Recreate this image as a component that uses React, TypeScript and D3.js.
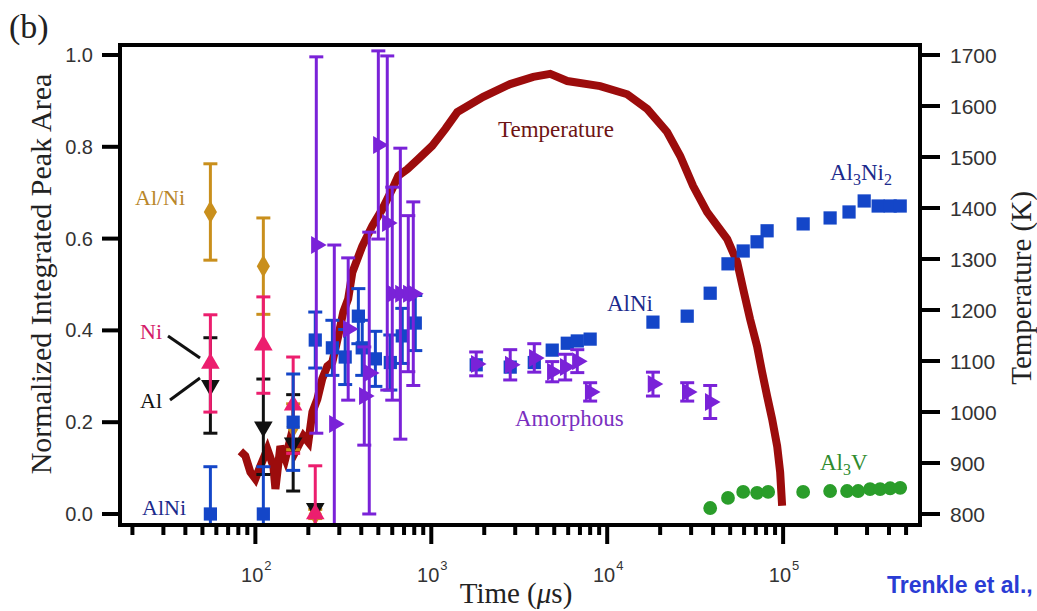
import React from 'react'
import * as d3 from 'd3'

// time in microseconds
const alNiTime = [55.5, 111, 164, 219]
const alNiVal = [0.658, 0.54, 0.19, 0.0]
const alNiErr = [0.105, 0.105, 0.05, 0.01]

const niTime = [55.5, 111, 164, 219]
const niVal = [0.328, 0.368, 0.237, 0.0]
const niErr = [0.106, 0.105, 0.105, 0.105]

const alTime = [55.5, 111, 164, 219]
const alVal = [0.28, 0.19, 0.155, 0.012]
const alErr = [0.104, 0.104, 0.105, 0.0]

const alNiPhaseTime = [55.5, 111, 164, 219, 274, 324, 385, 405, 481, 585, 684, 811,
  1800, 2810, 3850, 4870, 5930, 6760, 8000,
  18200, 28500, 38500, 48600, 59300, 71100, 81100,
  130000, 185000, 237000, 289000, 347000, 406000, 463000]
const alNiPhaseVal = [0, 0, 0.2, 0.379, 0.362, 0.342, 0.431, 0.362, 0.338, 0.33, 0.388, 0.416,
  0.325, 0.32, 0.33, 0.357, 0.372, 0.377, 0.381,
  0.418, 0.431, 0.481, 0.545, 0.573, 0.593, 0.617,
  0.632, 0.645, 0.658, 0.682, 0.671, 0.671, 0.671]
const alNiPhaseErr = [0.103, 0.103, 0.105, 0.061, 0.06, 0.06, 0.06, 0.06, 0.06, 0.06, 0.06, 0.06,
  0, 0, 0, 0, 0, 0, 0,
  0, 0, 0, 0, 0, 0, 0,
  0, 0, 0, 0, 0, 0, 0]

const amorTime = [222, 281, 337, 416, 444, 500, 562, 600, 667, 740, 790,
  1800, 2810, 3850, 4870, 5770, 6760, 8000, 18200, 28500, 38500]
const amorVal = [0.586, 0.196, 0.403, 0.257, 0.307, 0.804, 0.634, 0.48, 0.48, 0.48, 0.48,
  0.327, 0.325, 0.34, 0.31, 0.32, 0.333, 0.266, 0.283, 0.266, 0.244]
const amorErr = [0.41, 0.39, 0.155, 0.107, 0.307, 0.205, 0.364, 0.232, 0.317, 0.17, 0.2,
  0.026, 0.033, 0.031, 0.022, 0.028, 0.025, 0.02, 0.026, 0.02, 0.036]

const al3vTime = [38500, 48600, 59300, 71100, 82200, 130000, 185000, 231000, 267000, 312000, 356000, 406000, 463000]
const al3vVal = [0.013, 0.035, 0.048, 0.046, 0.048, 0.048, 0.05, 0.05, 0.05, 0.054, 0.054, 0.056, 0.057]

const tempTime = [82.2, 87.7, 93.7, 100, 106.8, 117, 126.5, 130, 138.7, 148, 158, 168.7, 187.5, 200,
  211, 225, 240, 256.5, 274, 296, 316, 337, 356, 405, 462, 527, 600, 649, 731, 844, 1013, 1202,
  1406, 1974, 2810, 3800, 4745, 5929, 9120, 13000, 16900, 21900, 26000, 30800, 37000, 48100,
  54800, 59300, 64900, 71100, 76000, 81100, 86600, 92500, 96200, 98700]
const tempK = [923, 914, 882, 869, 894, 927, 894, 849, 933, 908, 947, 922, 953, 941,
  1000, 1025, 1065, 1090, 1098, 1149, 1196, 1222, 1274, 1325, 1365, 1398, 1437, 1463, 1476, 1496, 1522, 1555,
  1588, 1618, 1643, 1657, 1663, 1649, 1639, 1623, 1594, 1549, 1502, 1443, 1392, 1339,
  1294, 1241, 1182, 1129, 1078, 1031, 986, 933, 882, 816]

const leftTicks = [0, 0.2, 0.4, 0.6, 0.8, 1.0]
const rightTicks = [800, 900, 1000, 1100, 1200, 1300, 1400, 1500, 1600, 1700]
const majorExp = [2, 3, 4, 5]

const L = 120, T = 45, R = 920, B = 525
const serif = '"Liberation Serif", "Times New Roman", serif'
const sans = '"Liberation Sans", Arial, sans-serif'

const x = d3.scaleLog().domain([17, 6e5]).range([L, R])
const yL = d3.scaleLinear().domain([-0.024, 1.0218]).range([B, T])
const yR = d3.scaleLinear().domain([778.4, 1719.6]).range([B, T])

const sym = (type, size) => d3.symbol().type(type).size(size)()

function Series({time, val, err, color, shape, rotate = 0, size = 160, capW = 7}) {
  return (
    <g>
      {time.map((t, i) => {
        const cx = x(t), cy = yL(val[i])
        const e = err ? err[i] : 0
        return (
          <g key={i}>
            {e > 0 && (
              <g stroke={color} strokeWidth={3}>
                <line x1={cx} x2={cx} y1={yL(val[i] + e)} y2={yL(Math.max(val[i] - e, -0.03))} />
                <line x1={cx - capW} x2={cx + capW} y1={yL(val[i] + e)} y2={yL(val[i] + e)} />
                {val[i] - e > -0.02 && (
                  <line x1={cx - capW} x2={cx + capW} y1={yL(val[i] - e)} y2={yL(val[i] - e)} />
                )}
              </g>
            )}
            <path d={sym(shape, size)} transform={`translate(${cx},${cy}) rotate(${rotate})`} fill={color} />
          </g>
        )
      })}
    </g>
  )
}

export default function App() {
  const tempLine = d3.line()
    .x((d, i) => x(tempTime[i]))
    .y((d, i) => yR(tempK[i]))
  const minor = []
  for (let dec = 10; dec <= 1e5; dec *= 10) {
    for (let m = 2; m <= 9; m++) {
      const t = dec * m
      if (t > 17 && t < 6e5) minor.push(t)
    }
  }

  return (
    <div style={{position: 'absolute', left: 0, top: 0}}>
      <svg width={1037} height={611} style={{display: 'block', background: '#fff'}}>
        <defs>
          <clipPath id="plot">
            <rect x={L} y={T} width={R - L} height={B - T} />
          </clipPath>
        </defs>

        <g clipPath="url(#plot)">
          <path d={tempLine(tempTime)} fill="none" stroke="#9c0c0c" strokeWidth={8} strokeLinejoin="miter" />
          <Series time={alNiTime} val={alNiVal} err={alNiErr} color="#c98f1c" shape={d3.symbolDiamond} size={150} />
          <Series time={alTime} val={alVal} err={alErr} color="#111" shape={d3.symbolTriangle} rotate={180} size={150} />
          <Series time={niTime} val={niVal} err={niErr} color="#ec1e6e" shape={d3.symbolTriangle} size={150} />
          <Series time={alNiPhaseTime} val={alNiPhaseVal} err={alNiPhaseErr} color="#1446c8" shape={d3.symbolSquare} size={175} />
          <Series time={amorTime} val={amorVal} err={amorErr} color="#7a22d8" shape={d3.symbolTriangle} rotate={90} size={140} />
          <Series time={al3vTime} val={al3vVal} color="#2a9d2a" shape={d3.symbolCircle} size={150} />
        </g>

        <rect x={L} y={T} width={R - L} height={B - T} fill="none" stroke="#000" strokeWidth={4} />

        {/* left axis */}
        {leftTicks.map(v => (
          <g key={v}>
            <line x1={L - 18} x2={L} y1={yL(v)} y2={yL(v)} stroke="#000" strokeWidth={4} />
            <text x={93} y={yL(v) + 7} textAnchor="end" fontFamily={sans} fontSize={20} fill="#333">{v.toFixed(1)}</text>
          </g>
        ))}

        {/* right axis */}
        {rightTicks.map(v => (
          <g key={v}>
            <line x1={R} x2={R + 20} y1={yR(v)} y2={yR(v)} stroke="#000" strokeWidth={4} />
            <text x={950} y={yR(v) + 8} fontFamily={sans} fontSize={21} fill="#333">{v}</text>
          </g>
        ))}

        {/* x axis */}
        {minor.map(t => (
          <line key={t} x1={x(t)} x2={x(t)} y1={B} y2={B + 10} stroke="#000" strokeWidth={4} />
        ))}
        {majorExp.map(e => (
          <g key={e}>
            <line x1={x(10 ** e)} x2={x(10 ** e)} y1={B} y2={B + 19} stroke="#000" strokeWidth={4} />
            <text x={x(10 ** e) + 8} y={582} textAnchor="end" fontFamily={sans} fontSize={20} fill="#333">10</text>
            <text x={x(10 ** e) + 9} y={570} fontFamily={sans} fontSize={13} fill="#333">{e}</text>
          </g>
        ))}

        {/* titles */}
        <text x={9} y={38} fontFamily={serif} fontSize={34} fill="#222">(b)</text>
        <text transform="translate(51,274) rotate(-90)" textAnchor="middle" fontFamily={serif} fontSize={30} fill="#222">
          Normalized Integrated Peak Area
        </text>
        <text transform="translate(1031,288) rotate(-90)" textAnchor="middle" fontFamily={serif} fontSize={29} fill="#222">
          Temperature (K)
        </text>
        <text x={516} y={603} textAnchor="middle" fontFamily={serif} fontSize={29} fill="#222">
          Time (<tspan fontStyle="italic">μ</tspan>s)
        </text>
        <text x={887} y={593} fontFamily={sans} fontWeight="bold" fontSize={23} fill="#2a3cd4">Trenkle et al.,</text>

        {/* series labels */}
        <text x={135} y={205} fontFamily={serif} fontSize={22} fill="#b8862a">Al/Ni</text>
        <text x={140} y={339} fontFamily={serif} fontSize={22} fill="#d41c6a">Ni</text>
        <text x={140} y={408} fontFamily={serif} fontSize={22} fill="#111">Al</text>
        <line x1={168} y1={336} x2={200} y2={358} stroke="#111" strokeWidth={3} />
        <line x1={170} y1={400} x2={200} y2={378} stroke="#111" strokeWidth={3} />
        <text x={142} y={515} fontFamily={serif} fontSize={22} fill="#1c2a8c">AlNi</text>
        <text x={498} y={137} fontFamily={serif} fontSize={23} fill="#6e1414">Temperature</text>
        <text x={607} y={311} fontFamily={serif} fontSize={23} fill="#1c2a8c">AlNi</text>
        <text x={515} y={426} fontFamily={serif} fontSize={23} fill="#7a2fc0">Amorphous</text>
        <text x={830} y={180} fontFamily={serif} fontSize={23} fill="#1c2a8c">
          Al<tspan fontSize={16} dy={5}>3</tspan><tspan dy={-5}>Ni</tspan><tspan fontSize={16} dy={5}>2</tspan>
        </text>
        <text x={820} y={470} fontFamily={serif} fontSize={23} fill="#2e8b2e">
          Al<tspan fontSize={16} dy={5}>3</tspan><tspan dy={-5}>V</tspan>
        </text>
      </svg>
    </div>
  )
}
